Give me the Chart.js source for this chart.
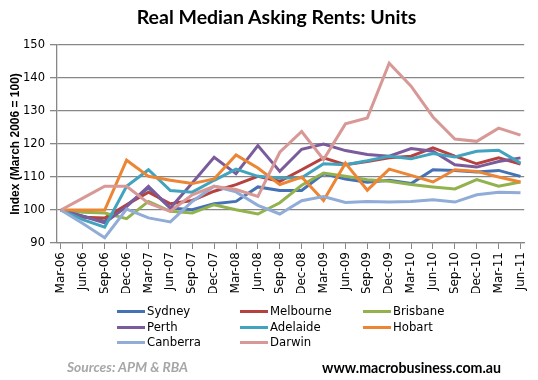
<!DOCTYPE html>
<html>
<head>
<meta charset="utf-8">
<script src="https://cdn.jsdelivr.net/npm/chart.js@4/dist/chart.umd.min.js"></script>
<style>
  html, body { margin: 0; padding: 0; background: #fff; }
  #wrap { position: relative; width: 538px; height: 380px; overflow: hidden; }
  #c { position: absolute; left: 0; top: 0; }
  #title { position: absolute; left: 0; width: 553px; top: 5px; text-align: center;
           font: bold 19.5px Lato, "Liberation Sans", sans-serif; color: #000; }
  #legend { position: absolute; left: 117px; top: 304px; width: 320px;
            font: 11.7px "DejaVu Sans", sans-serif; color: #000; }
  .li { position: absolute; white-space: nowrap; height: 15px; line-height: 15px; }
  .li span.sw { position: absolute; left: 0; top: 6px; width: 28px; height: 3px; }
  .li span.tx { position: absolute; left: 30px; top: 0; }
  #src { position: absolute; left: 67px; top: 358px; font: italic bold 13.8px Lato, "Liberation Sans", sans-serif; color: #a6a6a6; }
  #www { position: absolute; left: 322px; top: 359px; font: bold 14.2px Lato, "Liberation Sans", sans-serif; color: #000; }
</style>
</head>
<body>
<div id="wrap">
  <canvas id="c" width="538" height="380"></canvas>
  <div id="title">Real Median Asking Rents: Units</div>
  <div id="legend"></div>
  <div id="src">Sources: APM &amp; RBA</div>
  <div id="www">www.macrobusiness.com.au</div>
</div>
<script>
const categories = ["Mar-06","Jun-06","Sep-06","Dec-06","Mar-07","Jun-07","Sep-07","Dec-07","Mar-08","Jun-08","Sep-08","Dec-08","Mar-09","Jun-09","Sep-09","Dec-09","Mar-10","Jun-10","Sep-10","Dec-10","Mar-11","Jun-11"];
const seriesNames = ["Sydney","Melbourne","Brisbane","Perth","Adelaide","Hobart","Canberra","Darwin"];
const sydney    = [100, 98.1, 96.6, 101.4, 106.7, 100.6, 100.1, 101.9, 102.6, 107.0, 105.9, 105.9, 111.0, 109.4, 108.4, 109.0, 108.0, 112.2, 112.0, 111.5, 112.0, 110.2];
const melbourne = [100, 97.8, 97.6, 101.6, 105.4, 101.9, 102.9, 105.7, 107.7, 110.2, 108.7, 112.2, 115.8, 113.7, 114.7, 115.8, 116.3, 118.8, 116.3, 114.0, 115.8, 113.9];
const brisbane  = [100, 99.3, 99.1, 97.4, 102.6, 99.6, 99.1, 101.6, 100.1, 98.8, 102.2, 107.5, 111.2, 110.2, 109.2, 108.7, 107.7, 107.0, 106.4, 109.2, 107.2, 108.5];
const perth     = [100, 98.1, 96.1, 101.0, 107.2, 100.6, 108.2, 116.0, 111.0, 119.5, 111.7, 118.4, 120.0, 118.0, 116.8, 116.3, 118.6, 117.8, 113.7, 113.0, 114.7, 115.8];
const adelaide  = [100, 97.1, 94.8, 107.2, 112.2, 105.9, 105.4, 109.0, 112.4, 110.2, 109.7, 109.8, 114.0, 113.7, 114.9, 116.3, 115.5, 117.1, 116.1, 117.8, 118.1, 114.2];
const hobart    = [100, 100, 100, 115.1, 110.2, 109.0, 108.0, 109.4, 116.7, 112.7, 107.7, 110.0, 102.9, 114.2, 106.0, 112.4, 110.5, 108.5, 112.2, 111.7, 110.0, 108.5];
const canberra  = [100, 95.9, 91.6, 100.3, 97.6, 96.4, 102.6, 107.2, 105.5, 101.4, 98.8, 102.8, 104.1, 102.3, 102.6, 102.4, 102.6, 103.1, 102.4, 104.6, 105.4, 105.2];
const darwin    = [100, 103.6, 107.2, 107.2, 102.1, 99.6, 104.6, 107.2, 106.2, 104.1, 117.5, 123.8, 115.3, 126.1, 127.9, 144.5, 137.5, 128.2, 121.5, 120.8, 124.8, 122.7];
const yTicks = [90, 100, 110, 120, 130, 140, 150];
const colors = ["#4472b4", "#b5423f", "#92b24e", "#7a5b9c", "#41a3bd", "#ec8534", "#91acd6", "#d79896"];

const allValues = [sydney, melbourne, brisbane, perth, adelaide, hobart, canberra, darwin];

const datasets = seriesNames.map((name, s) => ({
  label: name,
  data: allValues[s].map((v, i) => ({ x: i, y: v })),
  borderColor: colors[s],
  backgroundColor: colors[s],
  borderWidth: 3,
  pointRadius: 0,
  tension: 0,
  fill: false,
  order: seriesNames.length - s
}));

// HTML legend (3 columns)
const leg = document.getElementById('legend');
seriesNames.forEach((name, s) => {
  const col = s % 3, row = Math.floor(s / 3);
  const d = document.createElement('div');
  d.className = 'li';
  d.style.left = (col * 123) + 'px';
  d.style.top = (row * 15.5) + 'px';
  d.innerHTML = '<span class="sw" style="background:' + colors[s] + '"></span><span class="tx">' + name + '</span>';
  leg.appendChild(d);
});

const gridColor = '#878787';

new Chart(document.getElementById('c'), {
  type: 'line',
  data: { datasets },
  options: {
    responsive: false,
    animation: false,
    layout: { padding: { top: 45, right: 12.3, bottom: 87, left: 0 } },
    plugins: { legend: { display: false }, title: { display: false }, tooltip: { enabled: false } },
    scales: {
      x: {
        type: 'linear',
        min: -0.18,
        max: 21.17,
        afterBuildTicks: (scale) => { scale.ticks = categories.map((_, i) => ({ value: i })); },
        afterFit: (scale) => { scale.height = 50; },
        ticks: {
          autoSkip: false,
          maxRotation: 90,
          minRotation: 90,
          padding: 3,
          color: '#000',
          font: { family: 'DejaVu Sans', size: 12 },
          callback: (v) => categories[v]
        },
        grid: { drawOnChartArea: false, drawTicks: true, tickLength: 6, color: gridColor, lineWidth: 1 },
        border: { display: true, color: gridColor, width: 1.3 }
      },
      y: {
        min: 90,
        max: 150,
        afterBuildTicks: (scale) => { scale.ticks = yTicks.map(v => ({ value: v })); },
        afterFit: (scale) => { scale.width = 57; },
        ticks: {
          padding: 5,
          color: '#000',
          font: { family: 'DejaVu Sans', size: 11.5 }
        },
        grid: { color: gridColor, lineWidth: 1.3, tickLength: 7, drawTicks: true },
        border: { display: true, color: gridColor, width: 1.3 },
        title: {
          display: true,
          text: 'Index (March 2006 = 100)',
          color: '#000',
          font: { family: 'Liberation Sans', size: 12, weight: 'bold' },
          padding: { top: 8, bottom: 0 }
        }
      }
    }
  }
});
</script>
</body>
</html>
